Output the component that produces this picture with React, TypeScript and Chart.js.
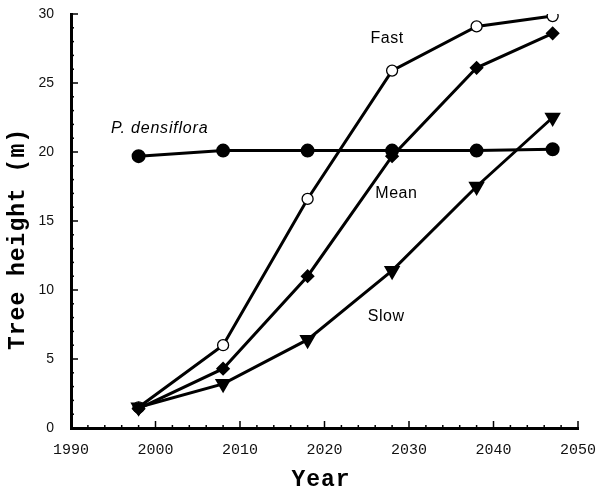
import React, { useEffect, useRef } from "react";
import { Chart, registerables } from "chart.js";

Chart.register(...registerables);

const years = [1998, 2008, 2018, 2028, 2038, 2047];
const densiflora = [19.7, 20.1, 20.1, 20.1, 20.1, 20.2];
const fast = [1.5, 6.0, 16.6, 25.9, 29.1, 29.85];
const mean = [1.4, 4.3, 11.0, 19.7, 26.1, 28.6];
const slow = [1.5, 3.2, 6.4, 11.4, 17.5, 22.5];

const xTicks = [1990, 2000, 2010, 2020, 2030, 2040, 2050];
const yTicks = [0, 5, 10, 15, 20, 25, 30];

const labels = [
  { text: "Fast", x: 2027.4, y: 28.2, italic: false },
  { text: "Mean", x: 2028.5, y: 17.0, italic: false },
  { text: "Slow", x: 2027.3, y: 8.1, italic: false },
  { text: "P. densiflora", x: 2000.5, y: 21.7, italic: true },
];

const pts = (vals: number[]) => years.map((x, i) => ({ x, y: vals[i] }));

const inwardTicks = {
  id: "inwardTicks",
  afterDatasetsDraw(chart: any) {
    const { ctx, chartArea, scales } = chart;
    const xs = scales.x;
    const ys = scales.y;
    ctx.save();
    ctx.strokeStyle = "#000";
    ctx.lineWidth = 1.5;
    for (let v = 0; v <= 30; v += 1) {
      const py = ys.getPixelForValue(v);
      const len = v % 5 === 0 ? 7 : 3;
      ctx.beginPath();
      ctx.moveTo(chartArea.left, py);
      ctx.lineTo(chartArea.left + len, py);
      ctx.stroke();
    }
    for (let v = 1990; v <= 2050; v += 2) {
      const px = xs.getPixelForValue(v);
      const len = v % 10 === 0 ? 7 : 3;
      ctx.beginPath();
      ctx.moveTo(px, chartArea.bottom);
      ctx.lineTo(px, chartArea.bottom - len);
      ctx.stroke();
    }
    ctx.restore();
  },
};

const textPlugin = {
  id: "textPlugin",
  afterDraw(chart: any) {
    const { ctx, scales } = chart;
    ctx.save();
    ctx.fillStyle = "#000";
    ctx.textAlign = "center";
    ctx.textBaseline = "middle";
    for (const l of labels) {
      ctx.font = `${l.italic ? "italic " : ""}16px "Liberation Sans", Arial, sans-serif`;
      (ctx as any).letterSpacing = l.italic ? "0.8px" : "0.5px";
      ctx.fillText(l.text, scales.x.getPixelForValue(l.x), scales.y.getPixelForValue(l.y));
    }
    (ctx as any).letterSpacing = "1px";
    ctx.font = 'bold 23px "Liberation Mono", "DejaVu Sans Mono", monospace';
    ctx.fillText("Year", 321, 480);
    ctx.translate(18, 239);
    ctx.rotate(-Math.PI / 2);
    ctx.fillText("Tree height (m)", 0, 0);
    ctx.restore();
  },
};

export default function App() {
  const ref = useRef<HTMLCanvasElement | null>(null);

  useEffect(() => {
    if (!ref.current) return;
    const line = (label: string, data: number[], extra: any) => ({
      label,
      data: pts(data),
      borderColor: "#000",
      borderWidth: 3,
      pointBorderColor: "#000",
      pointBackgroundColor: "#000",
      tension: 0,
      ...extra,
    });
    const chart = new Chart(ref.current, {
      type: "line",
      data: {
        datasets: [
          line("P. densiflora", densiflora, { pointStyle: "circle", pointRadius: 5.5 }),
          line("Slow", slow, { pointStyle: "triangle", pointRotation: 180, pointRadius: 6.5 }),
          line("Mean", mean, { pointStyle: "rectRot", pointRadius: 5 }),
          line("Fast", fast, {
            pointStyle: "circle",
            pointRadius: 5.5,
            pointBackgroundColor: "#fff",
            pointBorderWidth: 1.3,
          }),
        ],
      },
      options: {
        animation: false,
        responsive: false,
        devicePixelRatio: 1,
        layout: { padding: { left: 8, top: 14, right: 28, bottom: 0 } },
        plugins: { legend: { display: false }, tooltip: { enabled: false } },
        scales: {
          x: {
            type: "linear",
            min: 1990,
            max: 2050,
            afterFit: (s: any) => {
              s.height = 66;
              s.paddingLeft = 0;
              s.paddingRight = 0;
            },
            afterBuildTicks: (s: any) => {
              s.ticks = xTicks.map((v) => ({ value: v }));
            },
            grid: { display: false, drawTicks: false },
            border: { display: true, color: "#000", width: 3 },
            ticks: {
              padding: 13,
              color: "#111",
              font: { family: '"Liberation Mono", monospace', size: 15 },
              maxRotation: 0,
              autoSkip: false,
              callback: (v: any) => String(v),
            },
          },
          y: {
            type: "linear",
            min: 0,
            max: 30,
            afterFit: (s: any) => {
              s.width = 63;
              s.paddingTop = 0;
              s.paddingBottom = 0;
            },
            afterBuildTicks: (s: any) => {
              s.ticks = yTicks.map((v) => ({ value: v }));
            },
            grid: { display: false, drawTicks: false },
            border: { display: true, color: "#000", width: 3 },
            ticks: {
              padding: 17,
              color: "#111",
              font: { family: '"Liberation Sans", Arial, sans-serif', size: 14 },
              autoSkip: false,
              callback: (v: any) => String(v),
            },
          },
        },
      },
      plugins: [inwardTicks, textPlugin],
    });
    return () => chart.destroy();
  }, []);

  return (
    <div style={{ position: "absolute", left: 0, top: 0, width: 606, height: 494, background: "#fff" }}>
      <canvas ref={ref} width={606} height={494} style={{ width: 606, height: 494 }} />
    </div>
  );
}
